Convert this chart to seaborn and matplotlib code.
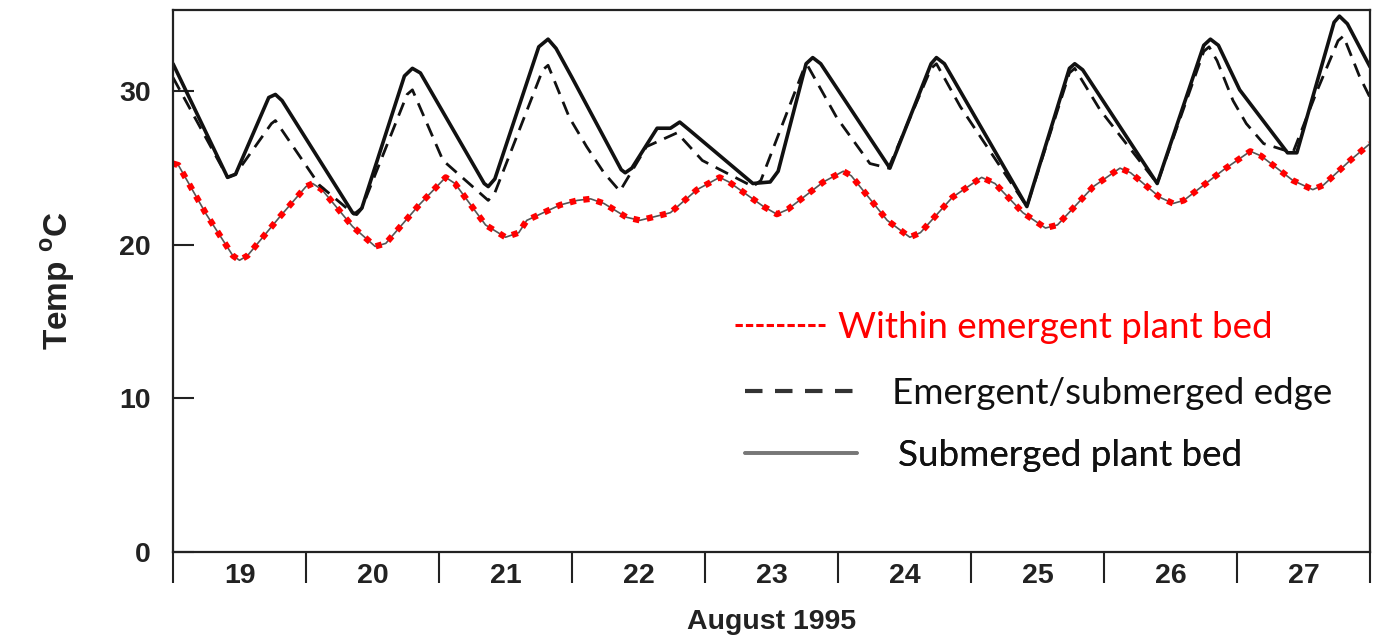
import numpy as np
import pandas as pd
import matplotlib
matplotlib.use("Agg")
import matplotlib.pyplot as plt
from matplotlib.lines import Line2D
import seaborn as sns

# ---- data ----
sub_t = [19.00, 19.41, 19.47, 19.72, 19.77, 19.82, 20.35, 20.38, 20.42, 20.74, 20.80, 20.86,
         21.34, 21.37, 21.42, 21.75, 21.82, 21.88, 22.00, 22.37, 22.40, 22.45, 22.64, 22.74,
         22.81, 22.88, 23.36, 23.49, 23.55, 23.76, 23.81, 23.87, 24.39, 24.70, 24.74, 24.80,
         25.42, 25.74, 25.78, 25.84, 26.40, 26.75, 26.80, 26.86, 27.02, 27.38, 27.45, 27.73,
         27.77, 27.83, 28.00]
sub_v = [31.8, 24.4, 24.6, 29.6, 29.8, 29.4, 22.1, 22.0, 22.4, 31.0, 31.5, 31.2,
         24.0, 23.8, 24.3, 32.9, 33.4, 32.8, 30.9, 24.9, 24.7, 25.0, 27.6, 27.6,
         28.0, 27.5, 24.0, 24.1, 24.8, 31.8, 32.2, 31.8, 25.0, 31.8, 32.2, 31.8,
         22.5, 31.5, 31.8, 31.4, 24.0, 33.0, 33.4, 33.0, 30.1, 26.0, 26.0, 34.5,
         34.9, 34.4, 31.6]

edge_t = [19.00, 19.41, 19.47, 19.74, 19.77, 20.10, 20.36, 20.42, 20.76, 20.80, 21.03, 21.37,
          21.42, 21.78, 21.82, 21.98, 22.11, 22.24, 22.36, 22.56, 22.79, 22.98, 23.36, 23.42,
          23.74, 23.77, 23.99, 24.24, 24.38, 24.70, 24.74, 24.92, 25.42, 25.74, 25.78, 25.97,
          26.40, 26.75, 26.79, 26.85, 26.97, 27.07, 27.20, 27.42, 27.60, 27.76, 27.80, 27.92,
          28.00]
edge_v = [30.9, 24.4, 24.6, 27.9, 28.1, 23.9, 22.0, 22.4, 29.8, 30.1, 25.5, 22.9,
          23.4, 31.4, 31.7, 28.3, 26.4, 24.7, 23.5, 26.4, 27.3, 25.5, 23.8, 24.2,
          31.4, 31.7, 28.3, 25.3, 25.0, 31.5, 31.8, 29.0, 22.5, 31.2, 31.5, 28.8,
          24.0, 32.6, 32.9, 32.0, 29.4, 27.9, 26.6, 26.0, 30.0, 33.3, 33.6, 31.0,
          29.6]

emg_t = [19.00, 19.04, 19.25, 19.45, 19.50, 19.56, 19.80, 20.00, 20.05, 20.12, 20.35, 20.52,
         20.60, 20.85, 21.05, 21.12, 21.35, 21.50, 21.60, 21.66, 21.91, 22.04, 22.14, 22.24,
         22.41, 22.51, 22.65, 22.74, 22.94, 23.11, 23.18, 23.44, 23.54, 23.62, 23.89, 24.04,
         24.10, 24.37, 24.54, 24.62, 24.86, 25.08, 25.18, 25.39, 25.56, 25.65, 25.92, 26.12,
         26.20, 26.42, 26.52, 26.60, 26.90, 27.10, 27.18, 27.42, 27.57, 27.65, 27.85, 28.00]
emg_v = [25.3, 25.2, 22.0, 19.3, 19.0, 19.3, 21.8, 23.8, 24.0, 23.6, 21.2, 19.9,
         20.1, 22.6, 24.4, 24.0, 21.3, 20.5, 20.8, 21.6, 22.6, 22.9, 23.0, 22.7,
         21.8, 21.6, 21.9, 22.1, 23.6, 24.4, 24.1, 22.5, 22.0, 22.3, 24.1, 24.8,
         24.5, 21.6, 20.5, 20.8, 23.1, 24.4, 24.0, 22.1, 21.1, 21.3, 23.8, 25.0,
         24.7, 23.1, 22.7, 22.9, 24.9, 26.1, 25.8, 24.2, 23.6, 23.9, 25.5, 26.6]

day_labels = ["19", "20", "21", "22", "23", "24", "25", "26", "27"]
y_ticks = [0, 10, 20, 30]
legend_labels = ["Within emergent plant bed", "Emergent/submerged edge", "Submerged plant bed"]

# ---- plotting ----
sns.set_style("white")
plt.rcParams["font.family"] = ["Liberation Sans", "DejaVu Sans"]
plt.rcParams["mathtext.fontset"] = "custom"
plt.rcParams["mathtext.rm"] = "Liberation Sans:bold"

fig = plt.figure(figsize=(13.78, 6.37), dpi=100)
ax = fig.add_axes([173 / 1378, 1 - 552 / 637, (1370 - 173) / 1378, (552 - 10) / 637])

df_sub = pd.DataFrame({"t": sub_t, "v": sub_v})
df_edge = pd.DataFrame({"t": edge_t, "v": edge_v})
df_emg = pd.DataFrame({"t": emg_t, "v": emg_v})

sns.lineplot(data=df_emg, x="t", y="v", ax=ax, estimator=None, sort=False,
             color="#555555", linewidth=1.2)
sns.lineplot(data=df_emg, x="t", y="v", ax=ax, estimator=None, sort=False,
             color="#ff0000", linewidth=4.5, linestyle=(0, (1, 1.2)))
sns.lineplot(data=df_edge, x="t", y="v", ax=ax, estimator=None, sort=False,
             color="#111111", linewidth=2.0, linestyle=(0, (5, 3)))
sns.lineplot(data=df_sub, x="t", y="v", ax=ax, estimator=None, sort=False,
             color="#111111", linewidth=2.6)

ax.set_xlim(19, 28)
ax.set_ylim(0, 35.3)

tick_font = {"family": "Liberation Sans", "weight": "bold", "size": 20.5}

# y axis
ax.set_yticks(y_ticks)
ax.set_yticklabels([str(v) for v in y_ticks], fontdict=tick_font)
ax.tick_params(axis="y", direction="in", length=15, width=1.5, pad=16,
               left=True, colors="#222222")

# x axis: boundaries as major ticks, day labels centered as minor
ax.set_xticks(np.arange(19, 29))
ax.set_xticklabels([])
ax.set_xticks(np.arange(19.5, 28.5, 1.0), minor=True)
ax.set_xticklabels(day_labels, minor=True, fontdict=tick_font)
ax.tick_params(axis="x", which="major", direction="out", length=22, width=1.5, bottom=True,
               color="#222222")
ax.tick_params(axis="x", which="minor", length=0, pad=8, labelcolor="#222222")

for s in ax.spines.values():
    s.set_color("#222222")
    s.set_linewidth(1.6)

ax.set_xlabel("August 1995", fontsize=20.5, fontweight="bold", color="#222222", labelpad=14)
ax.set_ylabel("Temp $^{\\mathrm{o}}$C", fontsize=24, fontweight="bold", color="#222222",
              labelpad=30)

# legend: three rows, each placed like the reference
rows = [
    (Line2D([], [], color="#ff0000", linewidth=2.2, linestyle=(0, (2.4, 1.0))),
     legend_labels[0], "#ff0000", (735 - 173) / 1197, (552 - 327) / 542, 2.45, 0.35),
    (Line2D([], [], color="#333333", linewidth=3.0, linestyle=(0, (4.2, 3.0))),
     legend_labels[1], "#111111", (745 - 173) / 1197, (552 - 393) / 542, 3.0, 1.0),
    (Line2D([], [], color="#777777", linewidth=2.6),
     legend_labels[2], "#111111", (745 - 173) / 1197, (552 - 455) / 542, 3.05, 1.1),
]
for handle, label, col, bx, by, hl, tp in rows:
    leg = ax.legend(handles=[handle], labels=[label], loc="center left",
                    bbox_to_anchor=(bx, by), frameon=False, handlelength=hl,
                    handletextpad=tp, borderpad=0, borderaxespad=0,
                    prop={"family": "Lato", "size": 26.5})
    leg.get_texts()[0].set_color(col)
    ax.add_artist(leg)

fig.savefig("out.png", dpi=100)
